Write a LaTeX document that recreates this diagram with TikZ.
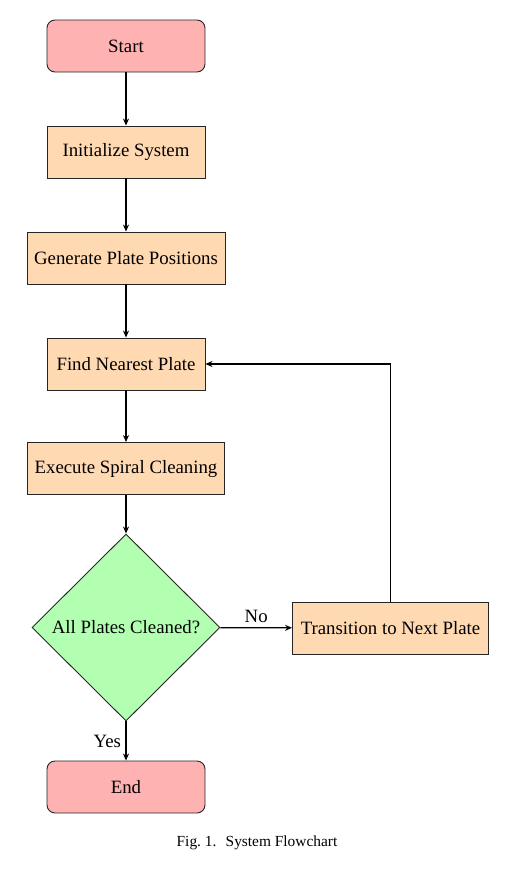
\documentclass[tikz,border=0pt]{standalone}
\usepackage{fontspec}
\setmainfont{Liberation Serif}
\usetikzlibrary{shapes.geometric,arrows.meta}
\definecolor{termfill}{RGB}{255,178,178}
\definecolor{procfill}{RGB}{255,217,178}
\definecolor{decfill}{RGB}{178,255,178}
\begin{document}
\begin{tikzpicture}[x=1pt,y=-1pt,
  every node/.style={font=\fontsize{18.8}{22}\selectfont},
  term/.style={draw=black!85, line width=0.9pt, fill=termfill, rounded corners=8pt, minimum width=158pt, minimum height=52pt, inner sep=0pt},
  proc/.style={draw=black!85, line width=0.9pt, fill=procfill, minimum height=52pt, inner sep=0pt},
  dec/.style={draw=black!85, line width=0.9pt, fill=decfill, diamond, minimum width=188pt, minimum height=187pt, inner sep=0pt},
  flow/.style={line width=1.3pt, -{Stealth[length=7pt,width=6pt]}},
  lbl/.style={font=\fontsize{18.8}{22}\selectfont}
]
\useasboundingbox (0,0) rectangle (510,873);
\node[term] (start) at (126,46) {Start};
\node[proc, minimum width=158pt] (init) at (126,152) {Initialize System};
\node[proc, minimum width=198pt] (gen) at (126,258) {Generate Plate Positions};
\node[proc, minimum width=158pt] (find) at (126,364) {Find Nearest Plate};
\node[proc, minimum width=197pt] (exec) at (126,468.5) {Execute Spiral Cleaning};
\node[dec] (chk) at (126,627.5) {All Plates Cleaned?};
\node[proc, minimum width=196pt] (trans) at (390.5,628) {Transition to Next Plate};
\node[term] (end) at (126,787) {End};
\draw[flow] (start) -- (init);
\draw[flow] (init) -- (gen);
\draw[flow] (gen) -- (find);
\draw[flow] (find) -- (exec);
\draw[flow] (exec) -- (chk);
\draw[flow] (chk) -- node[lbl, above, yshift=1pt] {No} (trans);
\draw[flow] (chk) -- node[lbl, left, pos=0.5, xshift=-1pt] {Yes} (end);
\draw[flow] (trans.north) |- (find.east);
\node[font=\fontsize{15.4}{18}\selectfont] (cap) at (257,843) {Fig.~1.\hspace{0.6em}System Flowchart};
\end{tikzpicture}
\end{document}
